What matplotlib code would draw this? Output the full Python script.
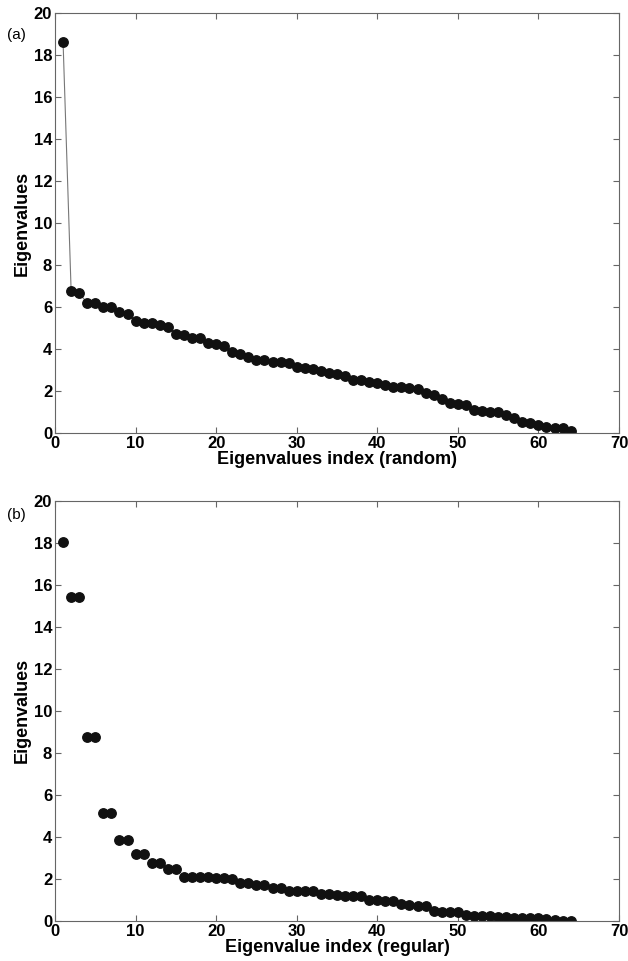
import matplotlib
matplotlib.use('Agg')
import matplotlib.pyplot as plt
import numpy as np

plt.rcParams['font.family'] = ['Liberation Sans', 'DejaVu Sans']

# eigenvalues, random connectivity (panel a)
idx = np.arange(1, 65)
eig_random = [18.62, 6.78, 6.66, 6.21, 6.18, 5.99, 5.99, 5.78, 5.66, 5.36,
              5.26, 5.23, 5.15, 5.07, 4.75, 4.68, 4.56, 4.52, 4.28, 4.25,
              4.17, 3.85, 3.77, 3.61, 3.49, 3.49, 3.41, 3.41, 3.33, 3.17,
              3.12, 3.06, 2.98, 2.85, 2.84, 2.74, 2.55, 2.54, 2.46, 2.41,
              2.31, 2.23, 2.23, 2.17, 2.12, 1.90, 1.84, 1.63, 1.44, 1.38,
              1.35, 1.11, 1.06, 1.03, 1.03, 0.87, 0.71, 0.55, 0.48, 0.40,
              0.32, 0.27, 0.24, 0.11]

# eigenvalues, regular connectivity (panel b)
eig_regular = [18.05, 15.40, 15.40, 8.77, 8.77, 5.12, 5.12, 3.85, 3.85, 3.19,
               3.19, 2.78, 2.78, 2.46, 2.46, 2.11, 2.11, 2.11, 2.09, 2.03,
               2.03, 2.00, 1.79, 1.79, 1.70, 1.70, 1.59, 1.59, 1.43, 1.43,
               1.42, 1.42, 1.30, 1.27, 1.22, 1.21, 1.21, 1.21, 1.00, 1.00,
               0.95, 0.95, 0.79, 0.78, 0.71, 0.71, 0.48, 0.44, 0.43, 0.41,
               0.27, 0.25, 0.25, 0.24, 0.21, 0.21, 0.16, 0.16, 0.14, 0.14,
               0.08, 0.06, 0.02, 0.00]

xticks = [0, 10, 20, 30, 40, 50, 60, 70]
yticks = [0, 2, 4, 6, 8, 10, 12, 14, 16, 18, 20]

fig = plt.figure(figsize=(6.28, 9.61), dpi=100)
ax1 = fig.add_axes([0.0876, 0.549, 0.898, 0.4377])
ax2 = fig.add_axes([0.0876, 0.0416, 0.898, 0.4373])


def style(ax, xlabel, tag, tag_y):
    ax.set_xlim(0, 70)
    ax.set_ylim(0, 20)
    ax.set_xticks(xticks)
    ax.set_yticks(yticks)
    ax.tick_params(direction='in', top=True, right=True, length=4,
                   width=0.8, color='#666666', labelsize=12, pad=2)
    for lab in ax.get_xticklabels() + ax.get_yticklabels():
        lab.set_fontweight('bold')
    for s in ax.spines.values():
        s.set_color('#666666')
        s.set_linewidth(0.8)
    ax.set_xlabel(xlabel, fontsize=13, fontweight='bold', labelpad=0)
    ax.set_ylabel('Eigenvalues', fontsize=13, fontweight='bold', labelpad=2)
    ax.text(-0.085, tag_y, tag, transform=ax.transAxes, fontsize=11,
            ha='left', va='center')


ax1.plot(idx, eig_random, '-', color='#777777', lw=0.8)
ax1.plot(idx, eig_random, 'o', color='#111111', ms=6.8)
style(ax1, 'Eigenvalues index (random)', '(a)', 0.947)

ax2.plot(idx, eig_regular, 'o', color='#111111', ms=6.8)
style(ax2, 'Eigenvalue index (regular)', '(b)', 0.966)

plt.savefig('out.png', dpi=100)
